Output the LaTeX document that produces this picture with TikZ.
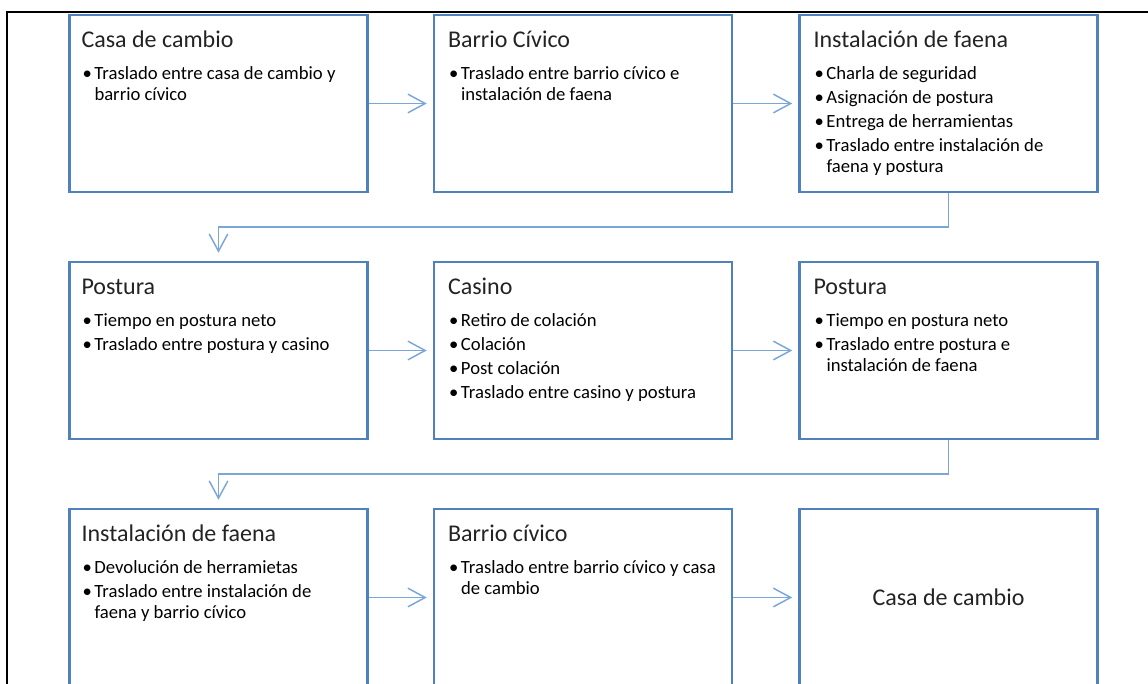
\documentclass[tikz,border=0pt]{standalone}
\usepackage{fontspec}
\setmainfont{Carlito}
\usetikzlibrary{arrows.meta}
\definecolor{boxblue}{RGB}{79,129,189}
\definecolor{arrblue}{RGB}{122,166,218}
\definecolor{titlegray}{RGB}{35,35,35}
\newdimen\pxu \pxu=0.75pt
\newcommand\bitem[1]{\hbox{\makebox[12\pxu][l]{\textbullet}#1}}
\newcommand\bcont[1]{\hbox{\hspace*{12\pxu}#1}}
\newcommand\bgap{\vskip3\pxu}
\newcommand\blist[1]{\vtop{\baselineskip=21\pxu\lineskiplimit=-100pt\lineskip=0pt #1}}
\tikzset{
  stagebox/.style={draw=boxblue, line width=1.9pt, minimum width=223.5pt, minimum height=132.75pt, inner sep=0pt},
  titletext/.style={anchor=base west, inner sep=0pt, text=titlegray, font=\fontsize{18}{21.6}\selectfont},
  listtext/.style={anchor=base west, inner sep=0pt, text=black, font=\fontsize{14}{16.8}\selectfont},
  flow/.style={draw=arrblue, line width=1.1pt, -{Straight Barb[length=13pt,width=14pt]}},
  hflow/.style={flow, shorten >=4.5pt},
  vflow/.style={flow, shorten >=6pt},
}
\begin{document}
\begin{tikzpicture}[x=0.75pt,y=-0.75pt]
\useasboundingbox (0,0) rectangle (1148,684);
\draw[line width=1.5pt, black] (6.5,684) -- (6.5,12) -- (1148,12);

% row 1
\node[stagebox] (b1) at (218.5,103.5) {};
\node[stagebox] (b2) at (583,103.5) {};
\node[stagebox] (b3) at (948.5,103.5) {};
% row 2
\node[stagebox] (b4) at (218.5,350.5) {};
\node[stagebox] (b5) at (583,350.5) {};
\node[stagebox] (b6) at (948.5,350.5) {};
% row 3
\node[stagebox] (b7) at (218.5,597.5) {};
\node[stagebox] (b8) at (583,597.5) {};
\node[stagebox, text=titlegray, font=\fontsize{18}{21.6}\selectfont] (b9) at (948.5,597.5) {Casa de cambio};

% texts row 1
\node[titletext] (t1) at ([shift={(13,34)}]b1.north west) {Casa de cambio};
\node[listtext] (l1) at ([shift={(14,66)}]b1.north west) {\blist{\bitem{Traslado entre casa de cambio y}\bcont{barrio cívico}}};
\node[titletext] (t2) at ([shift={(15,34)}]b2.north west) {Barrio Cívico};
\node[listtext] (l2) at ([shift={(16,66)}]b2.north west) {\blist{\bitem{Traslado entre barrio cívico e}\bcont{instalación de faena}}};
\node[titletext] (t3) at ([shift={(15,34)}]b3.north west) {Instalación de faena};
\node[listtext] (l3) at ([shift={(16,66)}]b3.north west) {\blist{\bitem{Charla de seguridad}\bgap\bitem{Asignación de postura}\bgap\bitem{Entrega de herramientas}\bgap\bitem{Traslado entre instalación de}\bcont{faena y postura}}};

% texts row 2
\node[titletext] (t4) at ([shift={(13,34)}]b4.north west) {Postura};
\node[listtext] (l4) at ([shift={(14,66)}]b4.north west) {\blist{\bitem{Tiempo en postura neto}\bgap\bitem{Traslado entre postura y casino}}};
\node[titletext] (t5) at ([shift={(15,34)}]b5.north west) {Casino};
\node[listtext] (l5) at ([shift={(16,66)}]b5.north west) {\blist{\bitem{Retiro de colación}\bgap\bitem{Colación}\bgap\bitem{Post colación}\bgap\bitem{Traslado entre casino y postura}}};
\node[titletext] (t6) at ([shift={(15,34)}]b6.north west) {Postura};
\node[listtext] (l6) at ([shift={(16,66)}]b6.north west) {\blist{\bitem{Tiempo en postura neto}\bgap\bitem{Traslado entre postura e}\bcont{instalación de faena}}};

% texts row 3
\node[titletext] (t7) at ([shift={(13,34)}]b7.north west) {Instalación de faena};
\node[listtext] (l7) at ([shift={(14,66)}]b7.north west) {\blist{\bitem{Devolución de herramietas}\bgap\bitem{Traslado entre instalación de}\bcont{faena y barrio cívico}}};
\node[titletext] (t8) at ([shift={(15,34)}]b8.north west) {Barrio cívico};
\node[listtext] (l8) at ([shift={(16,66)}]b8.north west) {\blist{\bitem{Traslado entre barrio cívico y casa}\bcont{de cambio}}};

% connectors
\draw[hflow] (b1.east) -- (b2.west);
\draw[hflow] (b2.east) -- (b3.west);
\coordinate (k1) at (948.5,227);
\draw[vflow] (b3.south) -- (k1) -| (b4.north);
\draw[hflow] (b4.east) -- (b5.west);
\draw[hflow] (b5.east) -- (b6.west);
\coordinate (k2) at (948.5,474);
\draw[vflow] (b6.south) -- (k2) -| (b7.north);
\draw[hflow] (b7.east) -- (b8.west);
\draw[hflow] (b8.east) -- (b9.west);
\end{tikzpicture}
\end{document}
